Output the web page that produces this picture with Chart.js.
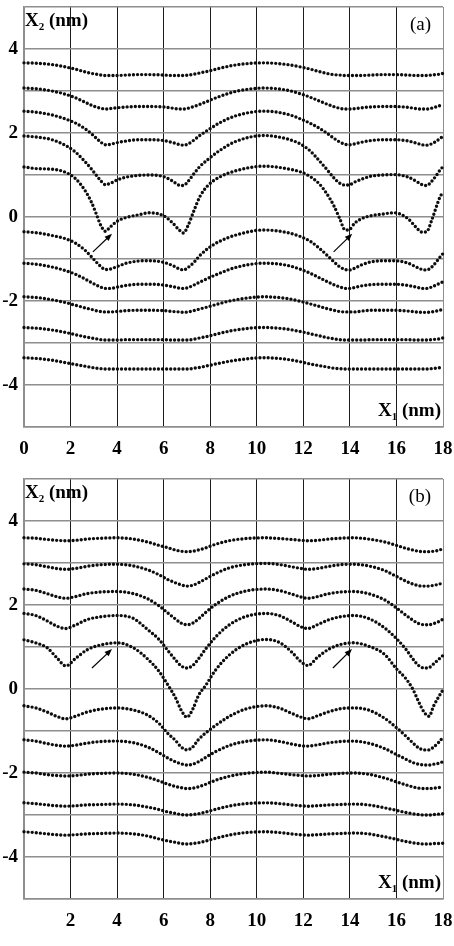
<!DOCTYPE html>
<html>
<head>
<meta charset="utf-8">
<script src="https://cdn.jsdelivr.net/npm/chart.js@4.4.1/dist/chart.umd.min.js"></script>
<style>
  html, body { margin: 0; padding: 0; background: #fff; }
  body { width: 454px; height: 946px; overflow: hidden; }
  canvas { display: block; }
</style>
</head>
<body>
<canvas id="chartA" width="454" height="472"></canvas>
<canvas id="chartB" width="454" height="474"></canvas>
<script>
// panel (a): x positions (nm) where the rows were read, then one array per atomic row, top to bottom
const XA = [0, 0.6, 1.2, 1.8, 2.2, 2.6, 2.9, 3.1, 3.3, 3.5, 3.7, 4.0, 4.4, 4.9, 5.4, 6.0, 6.4, 6.65, 6.85, 7.05, 7.3, 7.55, 7.9, 8.4, 9.1, 10.3, 11.3, 11.9, 12.3, 12.7, 13.0, 13.3, 13.55, 13.8, 14.0, 14.2, 14.5, 14.9, 15.4, 15.9, 16.5, 16.85, 17.1, 17.3, 17.5, 17.7, 17.85, 18.0];

const A1 = [3.67, 3.66, 3.63, 3.57, 3.52, 3.46, 3.42, 3.40, 3.38, 3.37, 3.37, 3.37, 3.38, 3.39, 3.39, 3.38, 3.37, 3.37, 3.37, 3.38, 3.40, 3.43, 3.47, 3.54, 3.62, 3.67, 3.63, 3.57, 3.52, 3.46, 3.42, 3.39, 3.38, 3.37, 3.37, 3.37, 3.37, 3.38, 3.39, 3.39, 3.38, 3.37, 3.37, 3.37, 3.38, 3.39, 3.40, 3.42];
const A2 = [3.07, 3.05, 3.00, 2.92, 2.84, 2.74, 2.66, 2.62, 2.59, 2.57, 2.58, 2.60, 2.62, 2.63, 2.63, 2.62, 2.59, 2.57, 2.57, 2.59, 2.63, 2.68, 2.76, 2.87, 2.99, 3.07, 3.02, 2.93, 2.85, 2.76, 2.69, 2.63, 2.59, 2.57, 2.57, 2.58, 2.60, 2.62, 2.63, 2.63, 2.61, 2.58, 2.57, 2.57, 2.59, 2.62, 2.65, 2.68];
const A3 = [2.52, 2.49, 2.43, 2.33, 2.24, 2.11, 1.98, 1.88, 1.78, 1.72, 1.73, 1.77, 1.81, 1.84, 1.84, 1.82, 1.77, 1.73, 1.71, 1.74, 1.83, 1.94, 2.07, 2.24, 2.41, 2.52, 2.45, 2.33, 2.23, 2.11, 2.00, 1.88, 1.79, 1.73, 1.72, 1.74, 1.78, 1.82, 1.84, 1.84, 1.81, 1.76, 1.72, 1.71, 1.74, 1.80, 1.86, 1.92];
const A4 = [1.93, 1.90, 1.84, 1.70, 1.55, 1.33, 1.14, 1.00, 0.86, 0.77, 0.80, 0.88, 0.95, 0.99, 1.00, 0.96, 0.85, 0.76, 0.75, 0.85, 1.03, 1.20, 1.37, 1.58, 1.80, 1.94, 1.86, 1.73, 1.57, 1.33, 1.14, 0.94, 0.81, 0.76, 0.77, 0.83, 0.90, 0.97, 1.00, 1.01, 0.95, 0.85, 0.77, 0.75, 0.84, 0.98, 1.10, 1.20];
const A5 = [1.19, 1.15, 1.14, 1.06, 0.92, 0.65, 0.35, 0.08, -0.20, -0.34, -0.24, -0.10, -0.01, 0.05, 0.10, 0.03, -0.15, -0.30, -0.38, -0.20, 0.15, 0.48, 0.75, 0.95, 1.10, 1.21, 1.15, 1.07, 0.96, 0.78, 0.56, 0.28, -0.02, -0.31, -0.29, -0.15, -0.04, 0.03, 0.07, 0.10, -0.04, -0.25, -0.36, -0.35, -0.10, 0.22, 0.45, 0.60];
const A6 = [-0.35, -0.38, -0.44, -0.52, -0.62, -0.78, -0.95, -1.07, -1.18, -1.25, -1.24, -1.18, -1.10, -1.05, -1.04, -1.08, -1.16, -1.23, -1.26, -1.20, -1.08, -0.92, -0.75, -0.58, -0.43, -0.31, -0.37, -0.47, -0.58, -0.75, -0.90, -1.06, -1.18, -1.25, -1.26, -1.22, -1.14, -1.07, -1.04, -1.04, -1.10, -1.19, -1.25, -1.26, -1.20, -1.08, -0.97, -0.87];
const A7 = [-1.10, -1.13, -1.19, -1.28, -1.36, -1.47, -1.56, -1.62, -1.67, -1.70, -1.70, -1.67, -1.63, -1.60, -1.60, -1.62, -1.66, -1.69, -1.70, -1.68, -1.62, -1.55, -1.46, -1.34, -1.20, -1.10, -1.15, -1.25, -1.34, -1.45, -1.53, -1.61, -1.66, -1.70, -1.70, -1.68, -1.64, -1.61, -1.60, -1.60, -1.63, -1.67, -1.70, -1.70, -1.67, -1.62, -1.58, -1.54];
const A8 = [-1.90, -1.92, -1.97, -2.04, -2.10, -2.16, -2.20, -2.23, -2.25, -2.26, -2.26, -2.25, -2.23, -2.22, -2.22, -2.23, -2.25, -2.26, -2.27, -2.26, -2.23, -2.19, -2.14, -2.06, -1.97, -1.90, -1.94, -2.01, -2.07, -2.13, -2.18, -2.22, -2.25, -2.26, -2.26, -2.26, -2.24, -2.22, -2.22, -2.22, -2.24, -2.26, -2.27, -2.27, -2.26, -2.24, -2.22, -2.20];
const A9 = [-2.63, -2.65, -2.69, -2.75, -2.80, -2.85, -2.88, -2.90, -2.92, -2.93, -2.93, -2.93, -2.92, -2.92, -2.92, -2.92, -2.93, -2.93, -2.93, -2.93, -2.91, -2.88, -2.84, -2.77, -2.69, -2.63, -2.67, -2.73, -2.78, -2.83, -2.87, -2.90, -2.92, -2.93, -2.93, -2.93, -2.93, -2.92, -2.92, -2.92, -2.92, -2.93, -2.93, -2.93, -2.92, -2.91, -2.90, -2.88];
const A10 = [-3.35, -3.37, -3.41, -3.47, -3.51, -3.55, -3.58, -3.60, -3.61, -3.62, -3.62, -3.62, -3.62, -3.62, -3.62, -3.62, -3.62, -3.62, -3.62, -3.62, -3.60, -3.58, -3.54, -3.48, -3.41, -3.35, -3.39, -3.45, -3.50, -3.54, -3.57, -3.60, -3.61, -3.62, -3.62, -3.62, -3.62, -3.62, -3.62, -3.62, -3.62, -3.62, -3.62, -3.62, -3.61, -3.60, -3.59, -3.57];

// panel (b)
const XB = [0, 0.5, 1.0, 1.4, 1.8, 2.2, 2.7, 3.3, 4.0, 4.7, 5.3, 5.8, 6.2, 6.5, 6.75, 7.0, 7.25, 7.5, 7.8, 8.2, 8.8, 9.5, 10.4, 11.0, 11.5, 11.9, 12.2, 12.6, 13.1, 13.6, 14.15, 14.8, 15.5, 16.0, 16.4, 16.7, 16.95, 17.2, 17.4, 17.6, 17.8, 18.0];

const B1 = [3.60, 3.59, 3.56, 3.54, 3.53, 3.54, 3.57, 3.59, 3.60, 3.57, 3.50, 3.42, 3.36, 3.31, 3.28, 3.27, 3.28, 3.31, 3.36, 3.44, 3.53, 3.58, 3.60, 3.58, 3.56, 3.54, 3.53, 3.54, 3.57, 3.59, 3.60, 3.57, 3.50, 3.42, 3.35, 3.31, 3.28, 3.27, 3.27, 3.28, 3.30, 3.34];
const B2 = [2.98, 2.96, 2.91, 2.87, 2.85, 2.87, 2.92, 2.96, 2.97, 2.93, 2.84, 2.72, 2.60, 2.53, 2.48, 2.45, 2.47, 2.53, 2.62, 2.74, 2.88, 2.96, 2.99, 2.96, 2.91, 2.87, 2.85, 2.87, 2.92, 2.96, 2.97, 2.93, 2.82, 2.68, 2.57, 2.50, 2.46, 2.45, 2.45, 2.47, 2.49, 2.53];
const B3 = [2.38, 2.35, 2.27, 2.20, 2.16, 2.20, 2.27, 2.31, 2.32, 2.27, 2.15, 1.98, 1.80, 1.67, 1.57, 1.53, 1.57, 1.67, 1.82, 2.00, 2.20, 2.33, 2.38, 2.34, 2.26, 2.19, 2.16, 2.20, 2.27, 2.31, 2.32, 2.27, 2.12, 1.93, 1.76, 1.64, 1.56, 1.53, 1.53, 1.56, 1.60, 1.66];
const B4 = [1.80, 1.75, 1.62, 1.50, 1.44, 1.52, 1.65, 1.72, 1.75, 1.68, 1.42, 1.18, 0.90, 0.70, 0.55, 0.50, 0.56, 0.72, 0.95, 1.22, 1.52, 1.72, 1.80, 1.74, 1.60, 1.48, 1.44, 1.53, 1.65, 1.72, 1.75, 1.68, 1.45, 1.20, 0.95, 0.72, 0.56, 0.50, 0.51, 0.60, 0.70, 0.80];
const B5 = [1.17, 1.10, 0.98, 0.75, 0.55, 0.72, 0.93, 1.05, 1.10, 0.98, 0.72, 0.42, 0.08, -0.20, -0.50, -0.67, -0.48, -0.15, 0.08, 0.43, 0.80, 1.06, 1.18, 1.10, 0.88, 0.65, 0.56, 0.75, 0.95, 1.06, 1.10, 1.02, 0.82, 0.48, 0.25, 0.00, -0.30, -0.56, -0.65, -0.40, -0.20, -0.02];
const B6 = [-0.40, -0.45, -0.55, -0.65, -0.71, -0.65, -0.55, -0.48, -0.45, -0.50, -0.62, -0.82, -1.07, -1.22, -1.38, -1.45, -1.38, -1.20, -1.05, -0.88, -0.66, -0.48, -0.40, -0.46, -0.58, -0.67, -0.71, -0.64, -0.54, -0.47, -0.45, -0.50, -0.70, -0.92, -1.12, -1.28, -1.40, -1.45, -1.45, -1.38, -1.28, -1.15];
const B7 = [-1.21, -1.24, -1.30, -1.34, -1.36, -1.34, -1.29, -1.25, -1.24, -1.28, -1.38, -1.52, -1.65, -1.73, -1.78, -1.81, -1.79, -1.73, -1.63, -1.50, -1.35, -1.25, -1.21, -1.25, -1.31, -1.35, -1.36, -1.33, -1.28, -1.25, -1.24, -1.29, -1.42, -1.56, -1.67, -1.75, -1.79, -1.81, -1.81, -1.79, -1.77, -1.73];
const B8 = [-1.98, -2.00, -2.04, -2.06, -2.07, -2.06, -2.03, -2.01, -2.00, -2.03, -2.10, -2.19, -2.27, -2.32, -2.35, -2.37, -2.36, -2.33, -2.27, -2.18, -2.08, -2.01, -1.98, -2.01, -2.04, -2.06, -2.07, -2.06, -2.03, -2.01, -2.00, -2.03, -2.12, -2.21, -2.28, -2.33, -2.36, -2.37, -2.37, -2.36, -2.35, -2.33];
const B9 = [-2.71, -2.73, -2.76, -2.78, -2.79, -2.78, -2.76, -2.75, -2.74, -2.76, -2.81, -2.87, -2.93, -2.96, -2.99, -3.00, -2.99, -2.97, -2.93, -2.87, -2.79, -2.73, -2.71, -2.73, -2.76, -2.78, -2.79, -2.78, -2.76, -2.75, -2.74, -2.76, -2.83, -2.89, -2.94, -2.97, -2.99, -3.00, -3.00, -2.99, -2.98, -2.97];
const B10 = [-3.40, -3.42, -3.45, -3.47, -3.48, -3.47, -3.45, -3.44, -3.43, -3.45, -3.50, -3.57, -3.62, -3.65, -3.68, -3.69, -3.68, -3.66, -3.62, -3.56, -3.48, -3.42, -3.40, -3.42, -3.45, -3.47, -3.48, -3.47, -3.45, -3.44, -3.43, -3.45, -3.52, -3.58, -3.63, -3.66, -3.68, -3.69, -3.69, -3.68, -3.68, -3.67];

// arrows pointing at the dislocation cores: [x from, y from, x to, y to] in nm
const ARROWS_A = [[2.96, -0.83, 3.78, -0.40], [13.3, -0.83, 14.1, -0.40]];
const ARROWS_B = [[2.92, 0.50, 3.78, 0.95], [13.27, 0.50, 14.09, 0.95]];

const FONT = '"Liberation Serif", "Times New Roman", serif';
const GRID_GRAY = '#8e8e8e';

// X + subscript + " (nm)", left or right aligned
function axisName(ctx, sub, x, y, alignRight) {
    const big = 'bold 19px ' + FONT;
    const small = 'bold 11px ' + FONT;
    ctx.font = big;
    const w1 = ctx.measureText('X').width;
    const w3 = ctx.measureText(' (nm)').width;
    ctx.font = small;
    const w2 = ctx.measureText(sub).width;
    let start = alignRight ? x - (w1 + w2 + w3) : x;
    ctx.textAlign = 'left';
    ctx.textBaseline = 'alphabetic';
    ctx.font = big;
    ctx.fillText('X', start, y);
    ctx.font = small;
    ctx.fillText(sub, start + w1, y + 4);
    ctx.font = big;
    ctx.fillText(' (nm)', start + w1 + w2, y);
}

const panelText = {
    id: 'panelText',
    afterDraw(chart, args, opts) {
        const ctx = chart.ctx;
        const area = chart.chartArea;
        const sx = chart.scales.x;
        const sy = chart.scales.y;
        ctx.save();
        ctx.fillStyle = '#000';
        axisName(ctx, '2', area.left + 1, area.top + 19, false);
        axisName(ctx, '1', area.right - 2, area.bottom - 11, true);

        ctx.font = '19px ' + FONT;
        ctx.textAlign = 'right';
        ctx.fillText(opts.tag, area.right - 12, area.top + 23);

        ctx.strokeStyle = '#000';
        ctx.lineWidth = 1.2;
        opts.arrows.forEach(a => {
            const x0 = sx.getPixelForValue(a[0]), y0 = sy.getPixelForValue(a[1]);
            const x1 = sx.getPixelForValue(a[2]), y1 = sy.getPixelForValue(a[3]);
            const ang = Math.atan2(y1 - y0, x1 - x0);
            const len = 8;
            ctx.beginPath();
            ctx.moveTo(x0, y0);
            ctx.lineTo(x1 - Math.cos(ang) * 4, y1 - Math.sin(ang) * 4);
            ctx.stroke();
            ctx.beginPath();
            ctx.moveTo(x1, y1);
            ctx.lineTo(x1 - len * Math.cos(ang - 0.38), y1 - len * Math.sin(ang - 0.38));
            ctx.lineTo(x1 - len * Math.cos(ang + 0.38), y1 - len * Math.sin(ang + 0.38));
            ctx.closePath();
            ctx.fill();
        });
        ctx.restore();
    }
};

function makePanel(id, xs, rows, tag, arrows, showZero, xAxisHeight) {
    const datasets = rows.map(r => ({
        data: xs.map((x, i) => ({ x: x, y: r[i] })),
        borderColor: '#0d0d0d',
        borderWidth: 3.4,
        borderDash: [0, 4.1],
        borderCapStyle: 'round',
        pointRadius: 0,
        cubicInterpolationMode: 'monotone',
        fill: false,
        clip: 4
    }));

    return new Chart(document.getElementById(id), {
        type: 'line',
        data: { datasets: datasets },
        options: {
            responsive: false,
            animation: false,
            layout: { padding: { top: 7, right: 11, left: 0, bottom: 0 } },
            plugins: {
                legend: { display: false },
                tooltip: { enabled: false },
                panelText: { tag: tag, arrows: arrows }
            },
            scales: {
                x: {
                    type: 'linear',
                    min: 0,
                    max: 18,
                    // fixed axis band, no extra room for the end labels
                    afterFit: s => { s.height = xAxisHeight; s.paddingLeft = 0; s.paddingRight = 0; },
                    ticks: {
                        stepSize: 2,
                        autoSkip: false,
                        maxRotation: 0,
                        padding: 11,
                        color: '#000',
                        font: { family: FONT, size: 19, weight: 'bold' },
                        callback: v => (v === 0 && !showZero) ? '' : String(v)
                    },
                    grid: {
                        color: c => (c.tick && (c.tick.value === 0 || c.tick.value === 18)) ? GRID_GRAY : '#1c1c1c',
                        lineWidth: 1,
                        drawTicks: false
                    },
                    border: { color: GRID_GRAY, width: 1.5 }
                },
                y: {
                    min: -5,
                    max: 5,
                    afterFit: s => { s.width = 24; s.paddingTop = 0; s.paddingBottom = 0; },
                    ticks: {
                        stepSize: 1,
                        padding: 6,
                        color: '#000',
                        font: { family: FONT, size: 19, weight: 'bold' },
                        callback: v => (v % 2 === 0 && Math.abs(v) < 5) ? String(v) : ''
                    },
                    grid: { color: GRID_GRAY, lineWidth: 1.4, drawTicks: false },
                    border: { color: GRID_GRAY, width: 1.5 }
                }
            }
        },
        plugins: [panelText]
    });
}

makePanel('chartA', XA, [A1, A2, A3, A4, A5, A6, A7, A8, A9, A10], '(a)', ARROWS_A, true, 45);
makePanel('chartB', XB, [B1, B2, B3, B4, B5, B6, B7, B8, B9, B10], '(b)', ARROWS_B, false, 47);
</script>
</body>
</html>
